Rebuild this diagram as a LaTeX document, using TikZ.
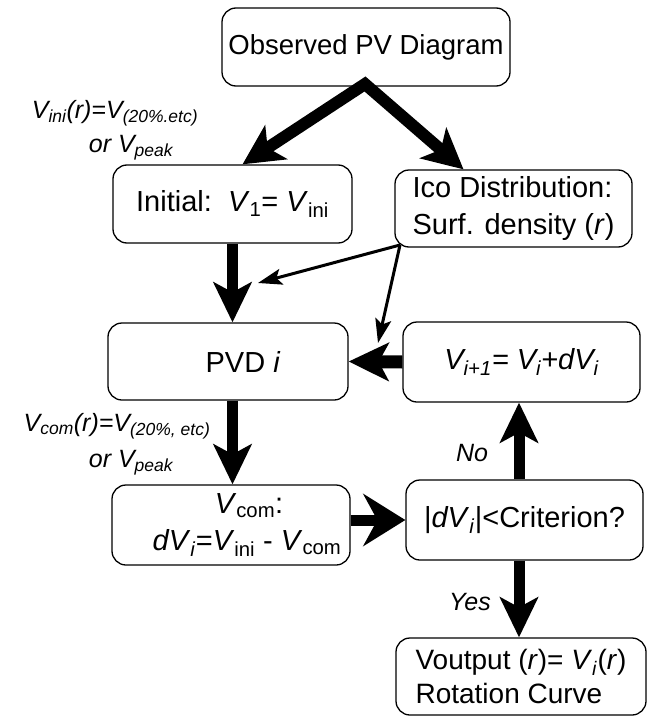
\documentclass[tikz,border=0pt]{standalone}
\usepackage{fontspec}
\setmainfont{Liberation Sans}
\usetikzlibrary{arrows.meta}
\begin{document}
\begin{tikzpicture}[x=1pt,y=-1pt,
 box/.style={draw, rounded corners=14pt, line width=1.3pt, inner sep=0pt, font=\fontsize{29}{37}\selectfont},
 bigarr/.style={line width=11pt, -{Stealth[length=40pt,width=38pt,inset=10pt]}},
 thinarr/.style={line width=3pt, -{Stealth[length=24pt,width=16pt,inset=5pt]}},
 lab/.style={font=\fontsize{25}{30}\selectfont\itshape, inner sep=0pt}]
\useasboundingbox (0,0) rectangle (648,725);

\node[box, minimum width=288pt, minimum height=78pt, font=\fontsize{27.5}{33}\selectfont] (obs) at (366,47) {Observed PV Diagram};
\node[box, minimum width=239pt, minimum height=78pt] (ini) at (232.5,204) {Initial:\ \ \textit{V}\textsubscript{1}= \textit{V}\textsubscript{ini}};
\node[box, minimum width=237pt, minimum height=77pt, align=left] (ico) at (513.5,208.5) {Ico Distribution:\\Surf. density (\textit{r})};
\node[box, minimum width=240pt, minimum height=77pt] (pvd) at (228,361.5) {\hspace*{30pt}PVD \textit{i}};
\node[box, minimum width=237pt, minimum height=80pt] (vip) at (521.5,362) {\textit{V\textsubscript{i+1}= V\textsubscript{i}+dV\textsubscript{i}}};
\node[box, minimum width=238pt, minimum height=80pt, align=center] (vcom) at (231,525) {\hspace*{36pt}\textit{V}\textsubscript{com}:\\\hspace*{32pt}\textit{dV}\textsubscript{\textit{i}}=\textit{V}\textsubscript{ini} - \textit{V}\textsubscript{com}};
\node[box, minimum width=237pt, minimum height=80pt] (crit) at (524.5,520) {|\textit{dV}\textsubscript{\textit{i}}|<Criterion?};
\node[box, minimum width=250pt, minimum height=77pt, align=left, font=\fontsize{28}{34}\selectfont] (out) at (521,676.5) {Voutput (\textit{r})= \textit{V}\textsubscript{\textit{i}}(\textit{r})\\Rotation Curve};

\node[lab] (l1) at (115,113) {V\textsubscript{ini}(r)=V\textsubscript{(20\%.etc)}};
\node[lab] (l2) at (131,148) {or V\textsubscript{peak}};
\node[lab] (l3) at (117,426) {V\textsubscript{com}(r)=V\textsubscript{(20\%, etc)}};
\node[lab] (l4) at (131,463) {or V\textsubscript{peak}};
\node[lab] (no) at (472,453) {No};
\node[lab] (yes) at (470,602) {Yes};

\coordinate (apex) at (365,84);
\coordinate (cx) at (519,0);
\coordinate (icoc) at (400,245);
\coordinate (t1) at (258,283);
\coordinate (t2) at (378,343);

\draw[line width=12pt, line join=miter, {Stealth[length=40pt,width=40pt,inset=10pt]}-{Stealth[length=40pt,width=40pt,inset=10pt]}] ([xshift=10pt]ini.north) -- (apex) -- ([xshift=-50pt]ico.north);
\draw[bigarr] (ini.south) -- (ini.south |- pvd.north);
\draw[bigarr] (ini.south |- pvd.south) -- (ini.south |- vcom.north);
\draw[bigarr, -{Stealth[length=42pt,width=52pt,inset=14pt]}] (vcom.east |- crit.west) -- (crit.west);
\draw[bigarr] (cx |- crit.north) -- (cx |- vip.south);
\draw[bigarr] (cx |- crit.south) -- (cx |- out.north);
\draw[bigarr, line width=13pt] (vip.west) -- (pvd.east);
\draw[thinarr] (icoc) -- (t1);
\draw[thinarr] (icoc) -- (t2);
\end{tikzpicture}
\end{document}
